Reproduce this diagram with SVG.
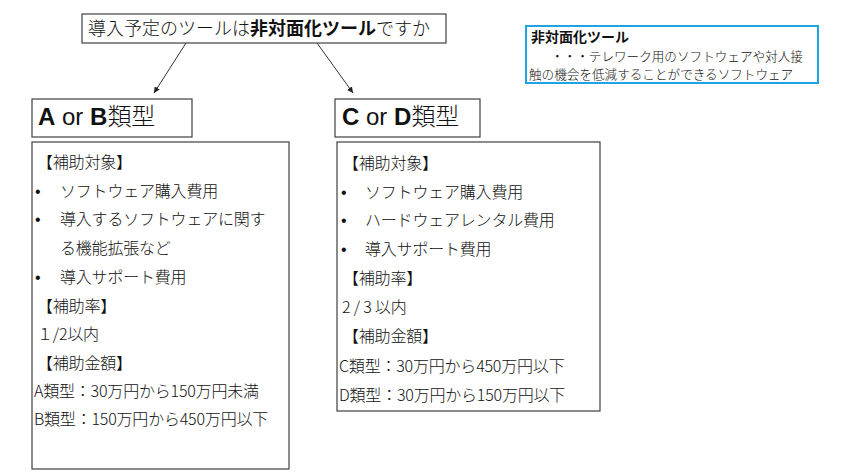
<svg xmlns="http://www.w3.org/2000/svg" width="850" height="475" viewBox="0 0 850 475">
<style>
text{font-family:"Noto Sans CJK JP","Liberation Sans",sans-serif;fill:#111;font-weight:300}
.lat{font-family:"Liberation Sans","Noto Sans CJK JP",sans-serif}
.box{fill:#fff;stroke:#404040;stroke-width:1.2}
.legend{fill:#fff;stroke:#1ea4e2;stroke-width:2}
.b{font-weight:bold}
.t16{font-size:16px}
.t16 text{letter-spacing:-0.2px}
.conn{stroke:#333;stroke-width:1;fill:none}
</style>
<defs>
<marker id="ah" viewBox="0 0 10 10" refX="10" refY="5" markerWidth="6" markerHeight="6" orient="auto" markerUnits="userSpaceOnUse">
<path d="M0,0 L10,5 L0,10 z" fill="#222"/>
</marker>
</defs>
<rect width="850" height="475" fill="#fff"/>
<g id="connectors">
<line class="conn" x1="186" y1="43" x2="154" y2="93" marker-end="url(#ah)"/>
<line class="conn" x1="317" y1="43" x2="353" y2="93" marker-end="url(#ah)"/>
</g>
<g id="question">
<rect class="box" x="82" y="14" width="364" height="29"/>
<text x="88" y="35" font-size="18">導入予定のツールは<tspan class="b">非対面化ツール</tspan>ですか</text>
</g>
<g id="legend">
<rect class="legend" x="526" y="26" width="292" height="57"/>
<text x="531" y="42" font-size="14" class="b">非対面化ツール</text>
<text x="551" y="60.5" font-size="12.6">・・・テレワーク用のソフトウェアや対人接</text>
<text x="529" y="79" font-size="12.6">触の機会を低減することができるソフトウェア</text>
</g>
<g id="typeAB">
<rect class="box" x="32" y="99" width="160" height="38"/>
<text class="lat" x="38" y="125" font-size="24"><tspan class="b">A</tspan> or <tspan class="b">B</tspan>類型</text>
</g>
<g id="typeCD">
<rect class="box" x="335" y="99" width="145" height="38"/>
<text class="lat" x="342" y="125" font-size="24"><tspan class="b">C</tspan> or <tspan class="b">D</tspan>類型</text>
</g>
<g id="detailAB" class="t16">
<rect class="box" x="32" y="142" width="257" height="327"/>
<text x="37" y="168">【補助対象】</text>
<text class="lat" x="35" y="197">•</text><text x="60" y="197">ソフトウェア購入費用</text>
<text class="lat" x="35" y="225">•</text><text x="60" y="225">導入するソフトウェアに関す</text>
<text x="60" y="254">る機能拡張など</text>
<text class="lat" x="35" y="283">•</text><text x="60" y="283">導入サポート費用</text>
<text x="37" y="312">【補助率】</text>
<text x="37" y="340">１/2以内</text>
<text x="37" y="369">【補助金額】</text>
<text x="34" y="397">A類型：30万円から150万円未満</text>
<text x="34" y="425">B類型：150万円から450万円以下</text>
</g>
<g id="detailCD" class="t16">
<rect class="box" x="337" y="142" width="263" height="269"/>
<text x="343" y="169">【補助対象】</text>
<text class="lat" x="341" y="198">•</text><text x="365" y="198">ソフトウェア購入費用</text>
<text class="lat" x="341" y="226">•</text><text x="365" y="226">ハードウェアレンタル費用</text>
<text class="lat" x="341" y="255">•</text><text x="365" y="255">導入サポート費用</text>
<text x="343" y="284">【補助率】</text>
<text x="342" y="313">2 / 3 以内</text>
<text x="343" y="342">【補助金額】</text>
<text x="339" y="372">C類型：30万円から450万円以下</text>
<text x="339" y="401">D類型：30万円から150万円以下</text>
</g>
</svg>
